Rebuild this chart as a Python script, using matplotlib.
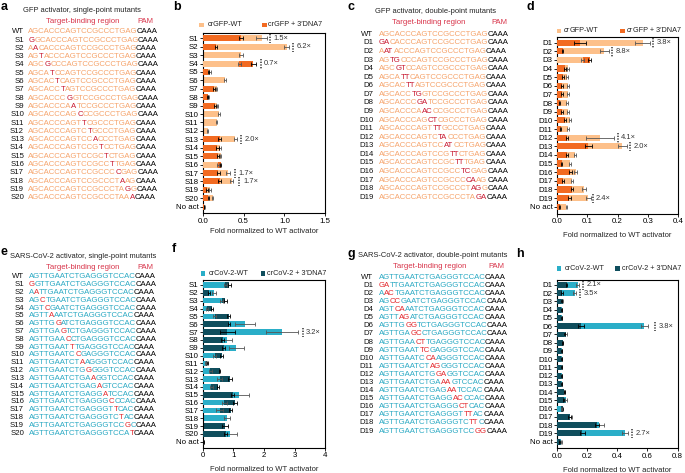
import numpy as np
import matplotlib
matplotlib.use("Agg")
import matplotlib.pyplot as plt
from matplotlib.patches import Rectangle

plt.rcParams['font.family'] = ['Liberation Sans', 'DejaVu Sans']

W, H = 685, 473
FS = 5.55

# sequences: lowercase letters are the mutated (highlighted) bases
GFP_WT = "AGCACCCAGTCCGCCCTGAG"
COV_WT = "AGTTGAATCTGAGGGTCCAC"
PAM = "CAAA"

gfp_single = ["gGCACCCAGTCCGCCCTGAG", "AaCACCCAGTCCGCCCTGAG", "AGtACCCAGTCCGCCCTGAG",
              "AGCgCCCAGTCCGCCCTGAG", "AGCAtCCAGTCCGCCCTGAG", "AGCACtCAGTCCGCCCTGAG",
              "AGCACCtAGTCCGCCCTGAG", "AGCACCCgGTCCGCCCTGAG", "AGCACCCAaTCCGCCCTGAG",
              "AGCACCCAGcCCGCCCTGAG", "AGCACCCAGTtCGCCCTGAG", "AGCACCCAGTCtGCCCTGAG",
              "AGCACCCAGTCCaCCCTGAG", "AGCACCCAGTCCGtCCTGAG", "AGCACCCAGTCCGCtCTGAG",
              "AGCACCCAGTCCGCCtTGAG", "AGCACCCAGTCCGCCCcGAG", "AGCACCCAGTCCGCCCTaAG",
              "AGCACCCAGTCCGCCCTAgG", "AGCACCCAGTCCGCCCTAAa"]
gfp_double = ["gaCACCCAGTCCGCCCTGAG", "AatACCCAGTCCGCCCTGAG", "AGtgCCCAGTCCGCCCTGAG",
              "AGCgtCCAGTCCGCCCTGAG", "AGCAttCAGTCCGCCCTGAG", "AGCACttAGTCCGCCCTGAG",
              "AGCACCtgGTCCGCCCTGAG", "AGCACCCgaTCCGCCCTGAG", "AGCACCCAacCCGCCCTGAG",
              "AGCACCCAGctCGCCCTGAG", "AGCACCCAGTttGCCCTGAG", "AGCACCCAGTCtaCCCTGAG",
              "AGCACCCAGTCCatCCTGAG", "AGCACCCAGTCCGttCTGAG", "AGCACCCAGTCCGCttTGAG",
              "AGCACCCAGTCCGCCtcGAG", "AGCACCCAGTCCGCCCcaAG", "AGCACCCAGTCCGCCCTagG",
              "AGCACCCAGTCCGCCCTAga"]
cov_single = ["gGTTGAATCTGAGGGTCCAC", "AaTTGAATCTGAGGGTCCAC", "AGcTGAATCTGAGGGTCCAC",
              "AGTcGAATCTGAGGGTCCAC", "AGTTaAATCTGAGGGTCCAC", "AGTTGgATCTGAGGGTCCAC",
              "AGTTGAgTCTGAGGGTCCAC", "AGTTGAAcCTGAGGGTCCAC", "AGTTGAATtTGAGGGTCCAC",
              "AGTTGAATCcGAGGGTCCAC", "AGTTGAATCTaAGGGTCCAC", "AGTTGAATCTGgGGGTCCAC",
              "AGTTGAATCTGAaGGTCCAC", "AGTTGAATCTGAGaGTCCAC", "AGTTGAATCTGAGGaTCCAC",
              "AGTTGAATCTGAGGGcCCAC", "AGTTGAATCTGAGGGTtCAC", "AGTTGAATCTGAGGGTCtAC",
              "AGTTGAATCTGAGGGTCCgC", "AGTTGAATCTGAGGGTCCAt"]
cov_double = ["gaTTGAATCTGAGGGTCCAC", "AacTGAATCTGAGGGTCCAC", "AGccGAATCTGAGGGTCCAC",
              "AGTcaAATCTGAGGGTCCAC", "AGTTagATCTGAGGGTCCAC", "AGTTGggTCTGAGGGTCCAC",
              "AGTTGAgcCTGAGGGTCCAC", "AGTTGAActTGAGGGTCCAC", "AGTTGAATtcGAGGGTCCAC",
              "AGTTGAATCcaAGGGTCCAC", "AGTTGAATCTagGGGTCCAC", "AGTTGAATCTGgaGGTCCAC",
              "AGTTGAATCTGAaaGTCCAC", "AGTTGAATCTGAGaaTCCAC", "AGTTGAATCTGAGGacCCAC",
              "AGTTGAATCTGAGGGctCAC", "AGTTGAATCTGAGGGTttAC", "AGTTGAATCTGAGGGTCttC",
              "AGTTGAATCTGAGGGTCCgg"]

single_labels = ["S%d" % i for i in range(1, 21)]
double_labels = ["D%d" % i for i in range(1, 20)]

# panel b: GFP single-point mutants
b_wt = [0.72, 1.03, 0.47, 0.45, 0.09, 0.27, 0.17, 0.07, 0.18, 0.20, 0.17,
        0.06, 0.40, 0.21, 0.22, 0.19, 0.31, 0.355, 0.09, 0.12, 0.02]
b_wt_err = [0.07, 0.03, 0.02, 0.02, 0.01, 0.01, 0.01, 0.01, 0.01, 0.01, 0.01,
            0.005, 0.02, 0.01, 0.01, 0.01, 0.02, 0.02, 0.01, 0.01, 0.005]
b_dna = [0.47, 0.165, 0, 0.62, 0.07, 0, 0.14, 0.06, 0.15, 0, 0,
         0, 0.21, 0.18, 0.19, 0.22, 0.19, 0.21, 0.05, 0.07, 0.015]
b_dna_err = [0.02, 0.01, 0, 0.03, 0.01, 0, 0.01, 0.01, 0.01, 0, 0,
             0, 0.02, 0.02, 0.01, 0.01, 0.02, 0.02, 0.01, 0.01, 0.005]
b_notes = [(0, 0.82, "1.5×"), (1, 1.11, "6.2×"), (3, 0.71, "0.7×"),
           (12, 0.47, "2.0×"), (16, 0.40, "1.7×"), (17, 0.45, "1.7×")]

# panel d: GFP double-point mutants
d_wt = [0.283, 0.157, 0.085, 0.038, 0.035, 0.038, 0.036, 0.033, 0.036, 0.044,
        0.037, 0.143, 0.215, 0.060, 0.045, 0.062, 0.050, 0.090, 0.104, 0.032]
d_wt_err = [0.024, 0.016, 0.004, 0.003, 0.003, 0.003, 0.003, 0.003, 0.003, 0.004,
            0.003, 0.045, 0.015, 0.004, 0.003, 0.005, 0.004, 0.008, 0.008, 0.003]
d_dna = [0.077, 0.020, 0.108, 0.028, 0.020, 0.018, 0.018, 0.010, 0.018, 0.026,
         0.013, 0.035, 0.104, 0.035, 0.017, 0.045, 0.022, 0.050, 0.042, 0.010]
d_dna_err = [0.020, 0.002, 0.004, 0.003, 0.003, 0.003, 0.003, 0.002, 0.003, 0.003,
             0.002, 0.003, 0.011, 0.003, 0.002, 0.004, 0.003, 0.004, 0.004, 0.002]
d_notes = [(0, 0.318, "3.8×"), (1, 0.181, "8.8×"), (11, 0.20, "4.1×"),
           (12, 0.241, "2.0×"), (18, 0.118, "2.4×")]

# panel f: SARS-CoV-2 single-point mutants
f_wt = [0.73, 0.38, 0.62, 0.15, 0.40, 1.37, 2.58, 0.78, 1.10, 0.40, 0.10,
        0.25, 0.55, 0.28, 1.20, 0.70, 0.55, 0.80, 0, 0.88, 0.02]
f_wt_err = [0.05, 0.07, 0.04, 0.03, 0.05, 0.33, 0.52, 0.17, 0.25, 0.05, 0.02,
            0.04, 0.07, 0.05, 0.30, 0.08, 0.12, 0.10, 0, 0.25, 0.01]
f_dna = [0.87, 0.20, 0.74, 0.30, 0.85, 0.85, 0.80, 0.65, 0.68, 0.62, 0.15,
         0.55, 0.88, 0.50, 0.98, 1.05, 0.92, 0, 0.73, 0.75, 0.02]
f_dna_err = [0.05, 0.04, 0.04, 0.04, 0.05, 0.04, 0.25, 0.05, 0.05, 0.04, 0.02,
             0.03, 0.07, 0.04, 0.05, 0.06, 0.05, 0, 0.10, 0.05, 0.01]
f_notes = [(6, 3.26, "3.2×")]

# panel h: SARS-CoV-2 double-point mutants
h_wt = [0.14, 0.12, 0.04, 0.035, 0.035, 0.58, 0.06, 0.04, 0.035, 0.035,
        0.035, 0.035, 0.035, 0.05, 0.06, 0.03, 0.09, 0.28, 0.45, 0.03]
h_wt_err = [0.01, 0.01, 0.004, 0.003, 0.003, 0.025, 0.005, 0.004, 0.003, 0.003,
            0.003, 0.003, 0.003, 0.004, 0.005, 0.003, 0.01, 0.03, 0.02, 0.003]
h_dna = [0.065, 0.035, 0.03, 0.03, 0.03, 0.16, 0.05, 0.04, 0.03, 0.03,
         0.03, 0.03, 0.03, 0.05, 0.045, 0.04, 0.085, 0.265, 0.17, 0.02]
h_dna_err = [0.005, 0.004, 0.003, 0.003, 0.003, 0.02, 0.004, 0.003, 0.003, 0.003,
             0.003, 0.003, 0.003, 0.004, 0.004, 0.003, 0.008, 0.015, 0.015, 0.003]
h_notes = [(0, 0.176, "2.1×"), (1, 0.154, "3.5×"), (5, 0.65, "3.8×"), (18, 0.50, "2.7×")]

# colours
GFP_SEQ = "#F6A46C"
GFP_MUT = "#C8172F"
COV_SEQ = "#2AA9C3"
COV_MUT = "#E3262B"
HEAD_RED = "#D8344A"
GFP_LIGHT, GFP_DARK = "#FDC08A", "#F26A21"
COV_LIGHT, COV_DARK = "#2AAEC8", "#0F4E5D"

# advance widths (em) of Liberation Sans / Arial capitals, and italic c, r
ADV = {"A": 0.667, "C": 0.722, "G": 0.778, "T": 0.611}
ADV_IT = {"c": 0.5, "r": 0.333}
SQUEEZE = 0.985  # hinted glyphs run a touch narrower than the metrics

fig = plt.figure(figsize=(W / 100, H / 100), dpi=100)


def em(size):
    return size * 100 / 72


def put(x, y, s, **kw):
    # x, y in pixels from the top-left corner
    kw.setdefault("fontsize", FS)
    kw.setdefault("va", "center")
    return fig.text(x / W, 1 - y / H, s, **kw)


def seq_line(x, y, seq, base_col, mut_col):
    full = seq.upper() + PAM
    cols = [mut_col if c.islower() else base_col for c in seq] + ["black"] * len(PAM)
    start, pos = 0, x
    for i in range(1, len(full) + 1):
        if i == len(full) or cols[i] != cols[start]:
            part = full[start:i]
            put(pos, y, part, color=cols[start])
            pos += sum(ADV[c] for c in part) * em(FS) * SQUEEZE
            start = i


def seq_panel(letter, lx, ly, title, tx, ty, hx, px, hy, rx, sx, y0, dy,
              labels, seqs, wt, base_col, mut_col):
    put(lx, ly, letter, fontsize=9, fontweight="bold", ha="center")
    put(tx, ty, title, fontsize=5.4, color="#222222")
    put(hx, hy, "Target-binding region", color=HEAD_RED)
    put(px, hy, "PAM", color=HEAD_RED)
    rows = ["WT"] + labels
    allseq = [wt] + seqs
    for k, (lab, s) in enumerate(zip(rows, allseq)):
        y = y0 + k * dy
        put(rx, y, lab, ha="right", color="#111111")
        seq_line(sx, y, s, base_col, mut_col)


seq_panel("a", 4, 7, "GFP activator, single-point mutants", 23, 10.7, 46, 137, 21,
          24, 28.3, 31.7, 8.3, single_labels, gfp_single, GFP_WT, GFP_SEQ, GFP_MUT)
seq_panel("c", 351, 7, "GFP activator, double-point mutants", 375, 11.7, 392, 491, 22.7,
          373.3, 379, 34.3, 8.58, double_labels, gfp_double, GFP_WT, GFP_SEQ, GFP_MUT)
seq_panel("e", 4, 251.5, "SARS-CoV-2 activator, single-point mutants", 10, 256.7, 45.7, 137, 267.3,
          24, 29, 276.7, 7.83, single_labels, cov_single, COV_WT, COV_SEQ, COV_MUT)
seq_panel("g", 351, 253.5, "SARS-CoV-2 activator, double-point mutants", 358, 255.7, 393, 488, 266.7,
          373.3, 379, 277.3, 8.09, double_labels, cov_double, COV_WT, COV_SEQ, COV_MUT)


def bar_panel(letter, lx, ly, left, right, y1, yn, labels, wt, wt_err, dna, dna_err,
              notes, light, dark, xmax, ticks, ticklabels, xlab_y,
              leg, leg_names, italic_cr=False):
    n = len(labels)
    s = (yn - y1) / (n - 1)
    top, bot = y1 - 0.65 * s, yn + 0.8 * s
    ax = fig.add_axes([left / W, 1 - bot / H, (right - left) / W, (bot - top) / H])
    for i in range(n):
        items = [(wt[i], wt_err[i], light, "#555555"), (dna[i], dna_err[i], dark, "black")]
        items.sort(key=lambda t: -t[0])
        # the shorter bar sits in front of the longer one
        for z, (v, e, c, ec) in enumerate(items):
            if v <= 0:
                continue
            ax.barh(i, v, height=0.72, color=c, linewidth=0, zorder=2 + 2 * z)
            ax.errorbar(v, i, xerr=e, fmt="none", ecolor=ec, elinewidth=0.6,
                        capsize=1.3, capthick=0.6, zorder=3 + 2 * z)
    for i, x, t in notes:
        ax.plot([x, x], [i - 0.5, i + 0.6], ls=(0, (0.8, 0.8)), lw=1.2,
                color="#444444", zorder=6, solid_capstyle="butt")
        ax.annotate(t, (x, i), xytext=(2.5, 0), textcoords="offset points",
                    va="center", fontsize=5.4, color="#333333")
    ax.set_xlim(0, xmax)
    ax.set_ylim(n - 0.2, -0.65)
    ax.set_yticks(range(n))
    ax.set_yticklabels(labels)
    ax.set_xticks(ticks)
    ax.set_xticklabels(ticklabels)
    ax.tick_params(labelsize=5.7, length=2, width=0.6, pad=1)
    ax.tick_params(axis="x", pad=1.2)
    for sp in ax.spines.values():
        sp.set_linewidth(0.8)
    put((left + right) / 2, xlab_y, "Fold normalized to WT activator", ha="center",
        fontsize=5.5, color="#222222")
    put(lx, ly, letter, fontsize=9, fontweight="bold", ha="center")
    # legend
    q1, t1, q2, t2, ly2 = leg
    for qx, tx, name, c in [(q1, t1, leg_names[0], light), (q2, t2, leg_names[1], dark)]:
        fig.patches.append(Rectangle((qx / W, 1 - (ly2 + 2.3) / H), 4.5 / W, 4.6 / H,
                                     transform=fig.transFigure, color=c, lw=0))
        if italic_cr:
            put(tx, ly2, "cr", fontsize=5.2, style="italic", color="#222222")
            dx = sum(ADV_IT[ch] for ch in "cr") * em(5.2)
            put(tx + dx, ly2, name[2:], fontsize=5.2, color="#222222")
        else:
            put(tx, ly2, name, fontsize=5.2, color="#222222")
    return ax


bar_panel("b", 177, 7, 202.7, 325.3, 38.3, 206.7, single_labels + ["No act"],
          b_wt, b_wt_err, b_dna, b_dna_err, b_notes, GFP_LIGHT, GFP_DARK, 1.5,
          [0, 0.5, 1.0, 1.5], ["0.0", "0.5", "1.0", "1.5"], 231,
          (199.3, 207.3, 262.3, 268, 25), ["crGFP-WT", "crGFP + 3\u2032DNA7"])
bar_panel("d", 530, 7, 556.7, 678.3, 42.7, 206.7, double_labels + ["No act"],
          d_wt, d_wt_err, d_dna, d_dna_err, d_notes, GFP_LIGHT, GFP_DARK, 0.4,
          [0, 0.1, 0.2, 0.3, 0.4], ["0.0", "0.1", "0.2", "0.3", "0.4"], 235.5,
          (556.7, 563.3, 620, 626.7, 31), ["crGFP-WT", "crGFP + 3\u2032DNA7"], italic_cr=True)
bar_panel("f", 174, 249, 202.7, 325.3, 285, 441.7, single_labels + ["No act"],
          f_wt, f_wt_err, f_dna, f_dna_err, f_notes, COV_LIGHT, COV_DARK, 4,
          [0, 1, 2, 3, 4], ["0", "1", "2", "3", "4"], 469.3,
          (200.7, 208.3, 260.7, 266.7, 273.3), ["crCoV-2-WT", "crCoV-2 + 3\u2032DNA7"])
bar_panel("h", 520, 254, 556.7, 677.7, 285, 441.7, double_labels + ["No act"],
          h_wt, h_wt_err, h_dna, h_dna_err, h_notes, COV_LIGHT, COV_DARK, 0.8,
          [0, 0.2, 0.4, 0.6, 0.8], ["0.0", "0.2", "0.4", "0.6", "0.8"], 470,
          (556.7, 564.3, 615, 621.7, 268.3), ["crCoV-2-WT", "crCoV-2 + 3\u2032DNA7"])

fig.savefig("out.png", dpi=100)
